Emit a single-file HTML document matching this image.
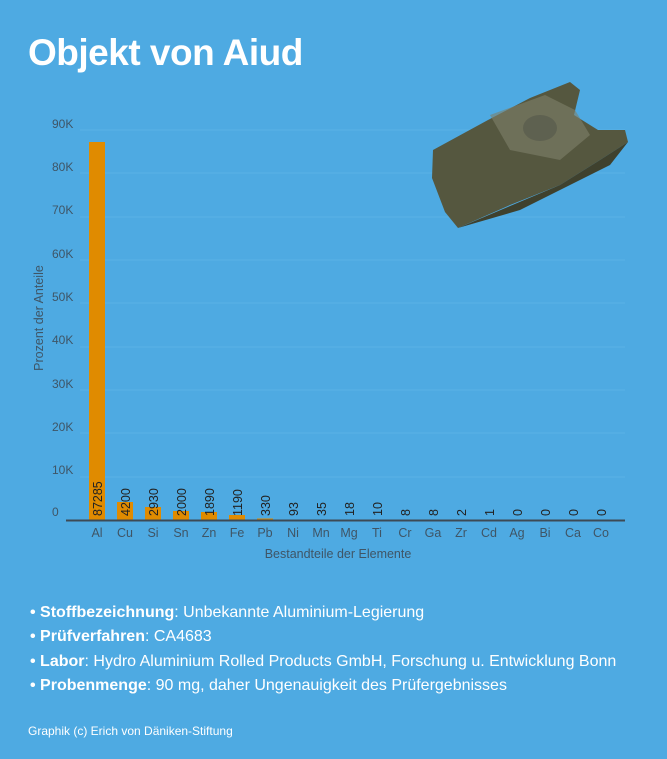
<!DOCTYPE html>
<html><head><meta charset="utf-8"><style>
body{margin:0;width:667px;height:759px;background:#4eaae2;font-family:"Liberation Sans",sans-serif;overflow:hidden;position:relative}
.t{position:absolute;left:28px;top:32px;font-size:37px;font-weight:bold;color:#fff;letter-spacing:-0.5px}
ul{position:absolute;left:30px;top:604px;margin:0;padding:0;list-style:none;color:#fff;font-size:16px}
li{height:24.3px}
li:before{content:"• ";font-weight:bold}
.f{position:absolute;left:28px;top:724px;font-size:12px;color:#fff}
</style></head><body>
<div class="t">Objekt von Aiud</div>
<svg width="667" height="759" style="position:absolute;left:0;top:0" font-family="Liberation Sans, sans-serif">
<g stroke="#5bb3e6" stroke-width="1">
<line x1="80" x2="625" y1="130" y2="130"/><line x1="80" x2="625" y1="173" y2="173"/><line x1="80" x2="625" y1="217" y2="217"/><line x1="80" x2="625" y1="260" y2="260"/><line x1="80" x2="625" y1="303" y2="303"/><line x1="80" x2="625" y1="347" y2="347"/><line x1="80" x2="625" y1="390" y2="390"/><line x1="80" x2="625" y1="433" y2="433"/><line x1="80" x2="625" y1="477" y2="477"/>
</g>
<g fill="#3f5566" font-size="12">
<text x="52" y="128">90K</text><text x="52" y="171">80K</text><text x="52" y="214">70K</text><text x="52" y="258">60K</text><text x="52" y="301">50K</text><text x="52" y="344">40K</text><text x="52" y="388">30K</text><text x="52" y="431">20K</text><text x="52" y="474">10K</text><text x="52" y="516">0</text>
</g>
<text transform="translate(43,318) rotate(-90)" text-anchor="middle" fill="#3f5566" font-size="12.5">Prozent der Anteile</text>
<g fill="#e08b00">
<rect x="89" y="142" width="16" height="378"/><rect x="117" y="502" width="16" height="18"/><rect x="145" y="507" width="16" height="13"/><rect x="173" y="511" width="16" height="9"/><rect x="201" y="512" width="16" height="8"/><rect x="229" y="515" width="16" height="5"/><rect x="257" y="518.5" width="16" height="1.5"/>
</g>
<line x1="66" x2="625" y1="520.5" y2="520.5" stroke="#3d4a55" stroke-width="2"/>
<g fill="#222" font-size="12.5">
<text transform="translate(102,516) rotate(-90)">87285</text>
<text transform="translate(130,516) rotate(-90)">4200</text>
<text transform="translate(158,516) rotate(-90)">2930</text>
<text transform="translate(186,516) rotate(-90)">2000</text>
<text transform="translate(214,516) rotate(-90)">1890</text>
<text transform="translate(242,516) rotate(-90)">1190</text>
<text transform="translate(270,516) rotate(-90)">330</text>
<text transform="translate(298,516) rotate(-90)">93</text>
<text transform="translate(326,516) rotate(-90)">35</text>
<text transform="translate(354,516) rotate(-90)">18</text>
<text transform="translate(382,516) rotate(-90)">10</text>
<text transform="translate(410,516) rotate(-90)">8</text>
<text transform="translate(438,516) rotate(-90)">8</text>
<text transform="translate(466,516) rotate(-90)">2</text>
<text transform="translate(494,516) rotate(-90)">1</text>
<text transform="translate(522,516) rotate(-90)">0</text>
<text transform="translate(550,516) rotate(-90)">0</text>
<text transform="translate(578,516) rotate(-90)">0</text>
<text transform="translate(606,516) rotate(-90)">0</text>
</g>
<g fill="#3f5566" font-size="12.5" text-anchor="middle">
<text x="97" y="537">Al</text><text x="125" y="537">Cu</text><text x="153" y="537">Si</text><text x="181" y="537">Sn</text><text x="209" y="537">Zn</text><text x="237" y="537">Fe</text><text x="265" y="537">Pb</text><text x="293" y="537">Ni</text><text x="321" y="537">Mn</text><text x="349" y="537">Mg</text><text x="377" y="537">Ti</text><text x="405" y="537">Cr</text><text x="433" y="537">Ga</text><text x="461" y="537">Zr</text><text x="489" y="537">Cd</text><text x="517" y="537">Ag</text><text x="545" y="537">Bi</text><text x="573" y="537">Ca</text><text x="601" y="537">Co</text>
<text x="338" y="558">Bestandteile der Elemente</text>
</g>
<polygon points="433,150 488,120 530,98 570,82 580,90 574,115 598,130 625,130 628,142 600,160 560,185 510,205 458,228 445,212 432,178" fill="#55573f"/>
<ellipse cx="540" cy="128" rx="17" ry="13" fill="#2f3228"/>
<polygon points="490,115 545,95 575,110 590,135 560,160 510,150" fill="#7f806a" opacity="0.6"/>
<polygon points="560,185 600,160 628,142 610,165 520,210 458,228" fill="#3f412e"/>
</svg>
<ul>
<li><b>Stoffbezeichnung</b>: Unbekannte Aluminium-Legierung</li>
<li><b>Prüfverfahren</b>: CA4683</li>
<li><b>Labor</b>: Hydro Aluminium Rolled Products GmbH, Forschung u. Entwicklung Bonn</li>
<li><b>Probenmenge</b>: 90 mg, daher Ungenauigkeit des Prüfergebnisses</li>
</ul>
<div class="f">Graphik (c) Erich von Däniken-Stiftung</div>
</body></html>
